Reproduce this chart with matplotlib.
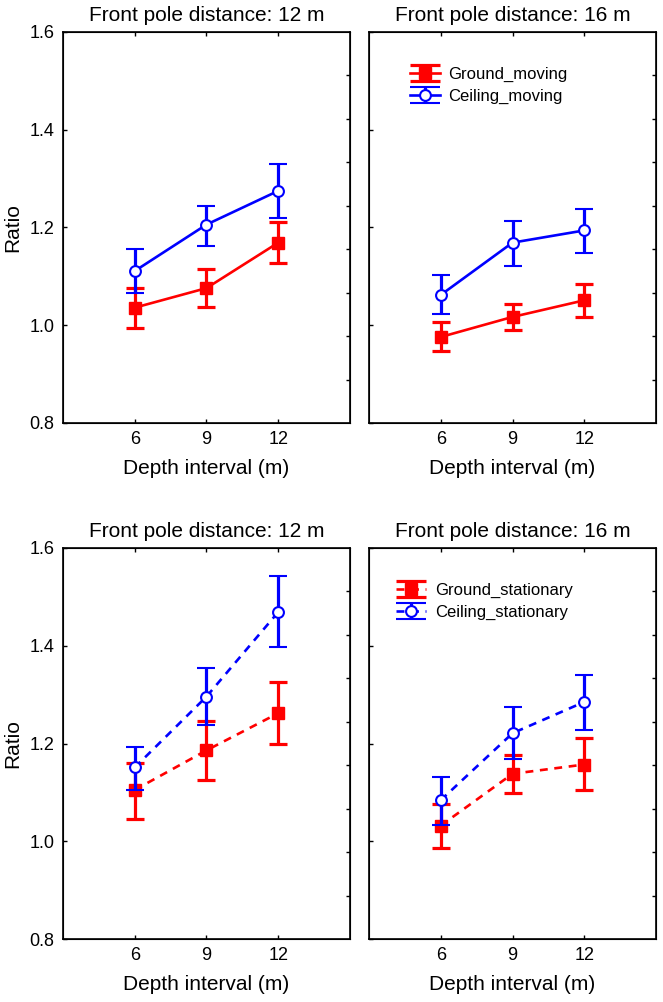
import numpy as np
import matplotlib
matplotlib.use("Agg")
import matplotlib.pyplot as plt

plt.rcParams['font.family'] = ['Liberation Sans', 'DejaVu Sans']

depth = [6, 9, 12]
yticks = [0.8, 1.0, 1.2, 1.4, 1.6]
titles = ["Front pole distance: 12 m", "Front pole distance: 16 m"]

# moving condition, 12 m / 16 m
ground_mov_12 = [1.036, 1.076, 1.169]
ground_mov_12_lo = [0.994, 1.037, 1.128]
ground_mov_12_hi = [1.076, 1.115, 1.211]
ceil_mov_12 = [1.111, 1.206, 1.275]
ceil_mov_12_lo = [1.065, 1.163, 1.220]
ceil_mov_12_hi = [1.157, 1.245, 1.330]

ground_mov_16 = [0.976, 1.017, 1.051]
ground_mov_16_lo = [0.947, 0.991, 1.017]
ground_mov_16_hi = [1.007, 1.043, 1.084]
ceil_mov_16 = [1.062, 1.169, 1.194]
ceil_mov_16_lo = [1.022, 1.122, 1.148]
ceil_mov_16_hi = [1.102, 1.213, 1.238]

# stationary condition, 12 m / 16 m
ground_sta_12 = [1.105, 1.186, 1.262]
ground_sta_12_lo = [1.045, 1.125, 1.200]
ground_sta_12_hi = [1.161, 1.247, 1.326]
ceil_sta_12 = [1.151, 1.296, 1.469]
ceil_sta_12_lo = [1.104, 1.237, 1.397]
ceil_sta_12_hi = [1.193, 1.354, 1.542]

ground_sta_16 = [1.032, 1.138, 1.157]
ground_sta_16_lo = [0.987, 1.099, 1.104]
ground_sta_16_hi = [1.077, 1.177, 1.211]
ceil_sta_16 = [1.084, 1.221, 1.285]
ceil_sta_16_lo = [1.034, 1.168, 1.228]
ceil_sta_16_hi = [1.131, 1.275, 1.341]

panels = [
    (ground_mov_12, ground_mov_12_lo, ground_mov_12_hi, ceil_mov_12, ceil_mov_12_lo, ceil_mov_12_hi, '-', None),
    (ground_mov_16, ground_mov_16_lo, ground_mov_16_hi, ceil_mov_16, ceil_mov_16_lo, ceil_mov_16_hi, '-',
     ["Ground_moving", "Ceiling_moving"]),
    (ground_sta_12, ground_sta_12_lo, ground_sta_12_hi, ceil_sta_12, ceil_sta_12_lo, ceil_sta_12_hi, '--', None),
    (ground_sta_16, ground_sta_16_lo, ground_sta_16_hi, ceil_sta_16, ceil_sta_16_lo, ceil_sta_16_hi, '--',
     ["Ground_stationary", "Ceiling_stationary"]),
]
legend_pos = {1: (0.12, 0.928), 3: (0.072, 0.928)}

red = '#ff0000'
blue = '#0000ff'
fig = plt.figure(figsize=(6.63, 10.02), dpi=100)
W, H = 663, 1002
boxes = [(63, 32), (369, 32), (63, 548), (369, 548)]
aw, ah = 287, 391

for i, (g, glo, ghi, c, clo, chi, ls, leg) in enumerate(panels):
    x0, y0 = boxes[i]
    ax = fig.add_axes([x0 / W, 1 - (y0 + ah) / H, aw / W, ah / H])
    g = np.array(g); c = np.array(c)
    gerr = [g - np.array(glo), np.array(ghi) - g]
    cerr = [c - np.array(clo), np.array(chi) - c]
    dash = (3, 2.5) if ls == '--' else (None, None)
    gkw = dict(color=red, ls=ls, lw=1.9, marker='s', ms=8, mfc=red, mec=red,
               elinewidth=2.3, capthick=2.3, dashes=dash)
    ckw = dict(color=blue, ls=ls, lw=1.9, marker='o', ms=7.8, mfc='white', mec=blue, mew=1.5,
               elinewidth=2.3, capthick=2.3, dashes=dash)
    ax.errorbar(depth, g, yerr=gerr, capsize=6.5, zorder=3, **gkw)
    ax.errorbar(depth, c, yerr=cerr, capsize=6.5, zorder=4, **ckw)
    ax.set_xlim(3, 15)
    ax.set_ylim(0.8, 1.6)
    ax.set_xticks(depth)
    ax.set_yticks(yticks)
    ax.tick_params(direction='in', length=3, width=1, top=True, labelsize=13, pad=6)
    if i % 2 == 0:
        ax.set_yticklabels(["%.1f" % v for v in yticks])
        ax.set_ylabel("Ratio", fontsize=15, labelpad=5)
    else:
        ax.set_yticklabels([])
    ax.set_xlabel("Depth interval (m)", fontsize=15, labelpad=8)
    ax.set_title(titles[i % 2], fontsize=15, pad=8)
    for s in ax.spines.values():
        s.set_linewidth(1.2)
    # right spine has its own tick spacing
    tw = ax.twinx()
    tw.set_ylim(0.8, 1.6)
    tw.set_yticks(np.linspace(0.8, 1.6, 10)[1:-1])
    tw.set_yticklabels([])
    tw.tick_params(direction='in', length=3, width=1)
    if leg:
        # legend keys with wide caps, as in the original
        h1 = ax.errorbar([np.nan], [np.nan], yerr=[0.05], capsize=11, **gkw)
        h2 = ax.errorbar([np.nan], [np.nan], yerr=[0.05], capsize=11, **ckw)
        ax.legend([h1, h2], leg, loc='upper left', bbox_to_anchor=legend_pos[i], frameon=False,
                  fontsize=12, handlelength=1.8, handletextpad=0.5, labelspacing=0.42, borderaxespad=0)

fig.savefig("out.png", dpi=100)
